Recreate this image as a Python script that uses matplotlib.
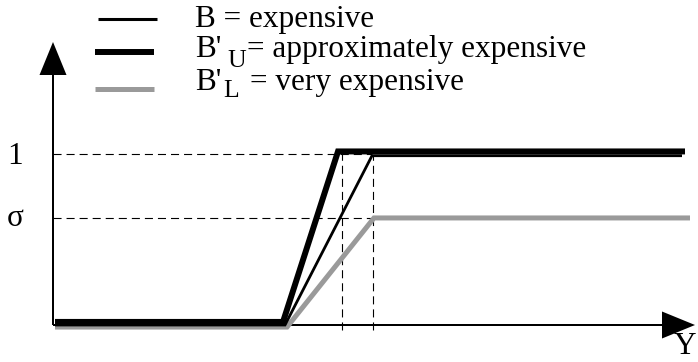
import matplotlib
matplotlib.use("Agg")
import matplotlib.pyplot as plt

plt.rcParams['font.family'] = ['Liberation Serif', 'DejaVu Serif']
plt.rcParams['lines.scale_dashes'] = False

gray = '#9a9a9a'

# membership functions (x in arbitrary Y units, y = membership degree)
sigma = 0.626
b_x = [0.02, 2.32, 3.19, 6.29]
b_y = [0.0, 0.0, 0.99, 0.99]
bu_x = [0.02, 2.30, 2.85, 6.32]
bu_y = [0.018, 0.018, 1.015, 1.015]
bl_x = [0.02, 2.34, 3.21, 6.37]
bl_y = [-0.012, -0.012, sigma, sigma]

# dashed guides
guide_levels = [1.0, sigma]
guide_level_end = 3.19
guide_x = [2.89, 3.20]
guide_x_top = [1.01, 0.99]
guide_bottom = -0.03

legend_names = ['B = expensive', "B'", "B'"]
legend_subs = ['U', 'L']
legend_rest = ['= approximately expensive', '= very expensive']

X0, Y0, SX, SY = 53, 325, 100.0, 171.0


def px(x, y):
    # pixel position (from top-left) -> data coords
    return (x - X0) / SX, (Y0 - y) / SY


fig = plt.figure(figsize=(6.98, 3.62), dpi=100)
ax = fig.add_axes([0, 0, 1, 1])
ax.set_xlim(px(0, 0)[0], px(698, 0)[0])
ax.set_ylim(px(0, 362)[1], px(0, 0)[1])
ax.axis('off')

# axes with arrow heads
ax.arrow(0, 0, 0, px(0, 42)[1], width=2 / SX, head_width=27 / SX,
         head_length=33 / SY, length_includes_head=True, color='black', lw=0)
ax.arrow(0, 0, px(695, 0)[0], 0, width=2 / SY, head_width=27 / SY,
         head_length=33 / SX, length_includes_head=True, color='black', lw=0)

# dashed guides
dash = (0, (5.8, 3.6))
for lv in guide_levels:
    ax.plot([0, guide_level_end], [lv, lv], color='black', lw=0.8, linestyle=dash)
for gx, gt in zip(guide_x, guide_x_top):
    ax.plot([gx, gx], [guide_bottom, gt], color='black', lw=0.8, linestyle=dash)

# curves
ax.plot(bl_x, bl_y, color=gray, lw=3.6, solid_joinstyle='miter', solid_capstyle='butt')
ax.plot(b_x, b_y, color='black', lw=2.0, solid_joinstyle='miter', solid_capstyle='butt')
ax.plot(bu_x, bu_y, color='black', lw=4.3, solid_joinstyle='miter', solid_capstyle='butt')

# axis labels
fs = 22.5
ax.text(*px(15, 164), '1', fontsize=fs, ha='center', va='baseline')
ax.text(*px(15, 226), 'σ', fontsize=fs, ha='center', va='baseline')
ax.text(*px(696, 361), 'Y', fontsize=fs, ha='right', va='bottom')

# legend
for (x1, x2, y), lw, c in [((98, 157, 19), 2.2, 'black'),
                          ((95, 154, 52), 4.3, 'black'),
                          ((95, 154, 89), 3.6, gray)]:
    a, b = px(x1, y), px(x2, y)
    ax.plot([a[0], b[0]], [a[1], b[1]], color=c, lw=lw, solid_capstyle='butt')

ax.text(*px(195, 27), legend_names[0], fontsize=fs, va='baseline')
ax.text(*px(195, 57), legend_names[1], fontsize=fs, va='baseline')
ax.text(*px(227, 67), legend_subs[0], fontsize=18.5, va='baseline')
ax.text(*px(247, 57), legend_rest[0], fontsize=fs, va='baseline')
ax.text(*px(195, 90), legend_names[2], fontsize=fs, va='baseline')
ax.text(*px(223, 97), legend_subs[1], fontsize=18.5, va='baseline')
ax.text(*px(250, 90), legend_rest[1], fontsize=fs, va='baseline')

fig.savefig('out.png', dpi=100)
